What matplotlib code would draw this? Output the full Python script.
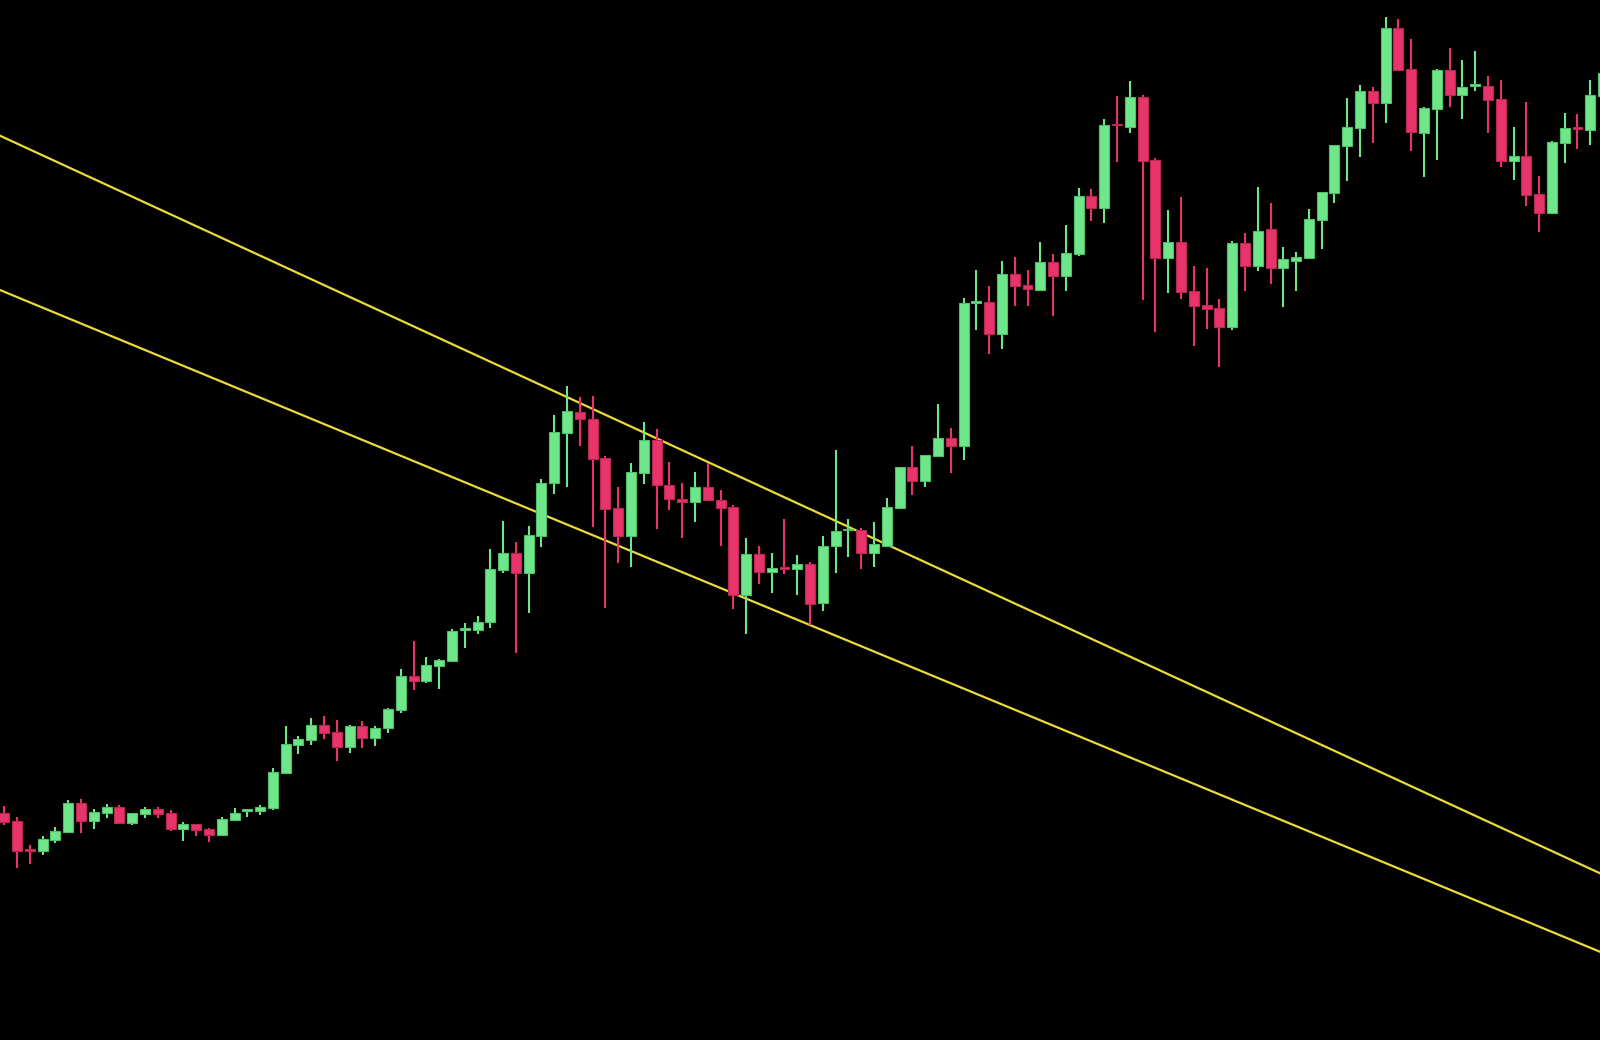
import matplotlib
matplotlib.use("Agg")
import matplotlib.pyplot as plt
import numpy as np

# OHLC data (arbitrary price units), one entry per candle
opens = [227.3, 219, 191, 189.3, 199.7, 208.3, 237, 219, 227.3, 232.7,
         217, 226.3, 231.3, 227.3, 210.7, 215.7, 210.7, 205.3, 220, 229.3,
         228.7, 232, 267, 295, 300.3, 315, 307.7, 292.7, 314, 302.3,
         312, 330, 364.3, 359, 374, 379.3, 410.3, 410.3, 417.7, 470,
         486.7, 467, 504.3, 556.7, 606.7, 628, 621.3, 582, 532, 504.3,
         567.3, 600, 555, 541.3, 537.7, 552.7, 540.3, 533, 444.7, 485.7,
         468, 473.3, 471.3, 476.3, 436.7, 494, 510, 510.3, 487.3, 494.3,
         531.7, 573.3, 559, 584.3, 602.3, 594.3, 737, 737.7, 706, 765.7,
         754.7, 750, 778.3, 763.7, 786, 843.7, 832.3, 916.3, 913.3, 943,
         880, 781.7, 797.7, 748.7, 734.7, 731.7, 713.3, 796.7, 774.3, 810.7,
         772.3, 779, 781.7, 820.3, 847, 894, 912.3, 949.3, 936.7, 1012.3,
         970.7, 906.7, 931.3, 969.7, 945.3, 953.7, 954.3, 940.7, 879, 884,
         845.7, 826.7, 897.3, 913.3, 910, 944]
highs = [234, 223.3, 195.3, 204, 212.7, 240, 241.3, 231, 236, 235,
         227.3, 233.3, 233, 229.7, 218.3, 215.7, 212, 223.3, 231.7, 230.7,
         235, 272.3, 314, 304.3, 321.7, 323.7, 320.3, 314.7, 319.3, 314,
         332, 370.7, 399.3, 382.7, 381.3, 411, 416.7, 424, 491, 519,
         497.7, 514, 560.7, 625, 654, 643, 644, 584, 553, 577,
         618.3, 610.7, 577.7, 557.3, 567.7, 576.7, 550, 535, 502, 494,
         486.7, 521, 485, 478.3, 504, 589.7, 521, 511.7, 518, 541.7,
         573.3, 594, 585, 635.7, 611.7, 742, 770, 754, 778.7, 782.7,
         770, 797.7, 786, 814.7, 852, 851, 921.3, 944, 959, 945,
         882, 829.7, 842.7, 774, 771.7, 740.7, 799.3, 807.3, 853.3, 837.3,
         793.3, 787.7, 830.7, 847.7, 894.7, 941.7, 954.7, 953.3, 1023.3, 1021,
         1000.7, 933.3, 970.7, 992, 980, 989, 964.3, 960, 913, 937.7,
         864, 899, 926.7, 925.7, 960, 975]
lows = [215, 172.3, 176.3, 185, 196.7, 208.3, 207.3, 211.3, 222.3, 217,
        214.7, 222.3, 222.3, 209.3, 198.7, 204, 197.7, 205.3, 219, 223.3,
        225.3, 230, 266, 286.3, 295, 301.3, 279, 287.3, 291.7, 293.7,
        306.7, 327, 350.3, 356.7, 351.3, 379.3, 392.3, 406, 412.3, 466.7,
        386.7, 427.3, 492.7, 546, 552.7, 594, 513, 431.7, 476.7, 473.3,
        555.7, 510.7, 530, 502.3, 518.3, 539.7, 493.7, 430.7, 406, 456.3,
        447.3, 466, 445, 415, 428.7, 466.7, 483.3, 471.3, 473.3, 494.3,
        530.7, 545, 553.3, 584.3, 567.3, 580, 710.3, 685.7, 691.3, 733.7,
        733.7, 748.7, 724.3, 748.7, 784, 819.3, 817, 878, 906.7, 740,
        708.3, 747.3, 741, 694.3, 711.3, 673, 710, 749, 769.3, 756.3,
        732.7, 748.7, 781.7, 790.7, 837.3, 859.3, 883.3, 897, 916.7, 969.7,
        888.7, 863.3, 880, 933.3, 920.7, 949.3, 906.7, 872.7, 859.7, 834.3,
        808.3, 826.7, 876.7, 890.7, 895, 935]
closes = [218.3, 189.3, 189.3, 200.7, 209.3, 237, 219, 228.3, 232.7, 217,
          227.3, 231.3, 226.3, 210.7, 215.7, 209.7, 205.3, 221, 227.3, 230.7,
          233, 268, 296, 301, 315, 306.7, 292.7, 314, 302.3, 312,
          331, 364.3, 359, 375, 380.3, 409, 412.3, 418.3, 470.7, 486.7,
          467, 505, 557.3, 607.7, 629, 620.7, 581, 531, 504.3, 568,
          600, 554.7, 540.7, 537.7, 552.7, 539.7, 532.3, 444.7, 485.7, 468,
          472, 471.3, 476.3, 436.3, 494.3, 509.3, 511.3, 487.3, 495.7, 533,
          573.3, 559, 585, 602.3, 594.3, 736.7, 738.7, 706.3, 765.7, 754.3,
          751, 778.3, 763.7, 787, 843.7, 832.3, 915, 914.7, 943, 879.3,
          781.7, 797.7, 747.7, 733.7, 730.7, 713.3, 796.7, 774.3, 809.3, 772.3,
          780.7, 782.7, 821, 847.7, 894.7, 913, 949.3, 936.7, 1012.3, 969.7,
          908, 932.3, 969.7, 945.3, 953.3, 956, 940, 879, 884, 845,
          826.7, 898, 912, 911, 945, 967.3]

# Trendline anchor points: (candle index, price)
upper_line = [(0, 902.3), (120, 194.8)]
lower_line = [(0, 748.2), (120, 113.4)]

UP = "#6fe68a"
UP_EDGE = "#4fbf6a"
DOWN = "#e8336b"
DOWN_EDGE = "#b8284f"
LINE = "#ecd93a"

o = np.array(opens); h = np.array(highs); l = np.array(lows); c = np.array(closes)
x = np.arange(len(o))
up = c >= o
# red dojis where close slightly below open are handled by comparison above
face = np.where(up, UP, DOWN)
edge = np.where(up, UP_EDGE, DOWN_EDGE)

fig = plt.figure(figsize=(16, 10.4), dpi=100, facecolor="black")
ax = fig.add_axes([0, 0, 1, 1])
ax.set_facecolor("black")

ax.axline(upper_line[0], upper_line[1], color=LINE, linewidth=1.6, zorder=1)
ax.axline(lower_line[0], lower_line[1], color=LINE, linewidth=1.6, zorder=1)

ax.vlines(x, l, h, colors=face, linewidth=1.5, zorder=2)
body_bottom = np.minimum(o, c)
body_h = np.maximum(np.abs(c - o), 1.5)
ax.bar(x, body_h, bottom=body_bottom, width=0.78, color=face,
       edgecolor=edge, linewidth=0.8, zorder=3)

ax.set_xlim(-0.336, 124.76)
ax.set_ylim(0, 1040)
ax.axis("off")

fig.savefig("out.png", dpi=100, facecolor="black")
